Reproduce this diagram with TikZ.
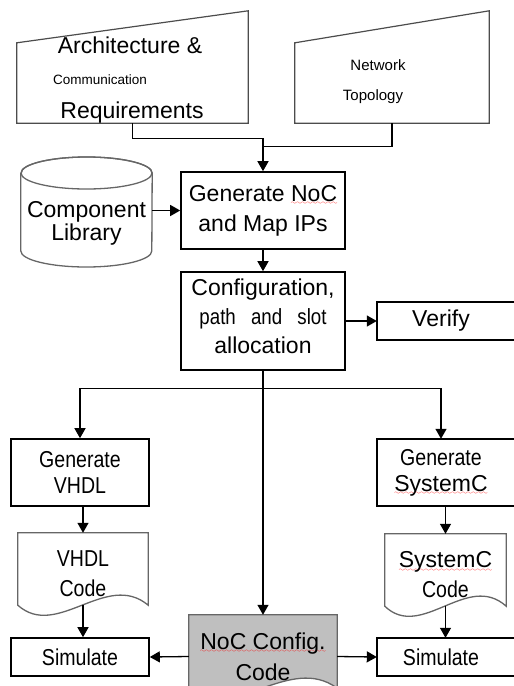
\documentclass[tikz,border=0pt]{standalone}
\usepackage{fontspec}
\setmainfont{Liberation Sans}
\newfontfamily\narrowsans[FakeStretch=0.85]{Liberation Sans}
\usetikzlibrary{arrows.meta}
\usetikzlibrary{calc}
\usetikzlibrary{backgrounds}

\font\wavefont=lasy6
\newcommand\spellwave[1]{\setbox0\hbox{#1}\rlap{\lower3.5pt\hbox to\wd0{\color{red}\xleaders\hbox{\wavefont\char58}\hfil}}#1}

\begin{document}
\begin{tikzpicture}[x=1pt,y=-1pt,
    box/.style={draw,line width=1.6pt,inner sep=0pt,align=center},
    doc/.style={inner sep=0pt,align=center},
    arr/.style={line width=1.3pt,-{Triangle[length=10pt,width=11pt]}},
    ln/.style={line width=1.3pt},
    big/.style={font=\fontsize{23}{30}\selectfont},
    narrow/.style={font=\narrowsans\fontsize{23}{26}\selectfont},
    grayline/.style={line width=1.3pt,black!60}]
    \useasboundingbox (0,0) rectangle (514,686);
    \clip (0,0) rectangle (514,686);

    % inputs
    \node[minimum width=231pt,minimum height=112pt] (req) at (132.5,67) {};
    \node[minimum width=194pt,minimum height=112pt] (topo) at (392,67) {};
    \foreach \n in {req,topo}{
    \draw[line width=1.2pt,black!70] (\n.south west) -- ([yshift=-32pt]\n.north west)
        -- (\n.north east) -- (\n.south east) -- cycle;
    }
    \node[big,anchor=base] (archtxt) at (130,53) {Architecture \&};
    \node[anchor=base,font=\fontsize{13.5}{16}\selectfont] (commtxt) at (100,84) {Communication};
    \node[big,anchor=base] (reqtxt) at (132,118) {Requirements};
    \node[anchor=base,font=\fontsize{15}{18}\selectfont] (nettxt) at (378,70) {Network};
    \node[anchor=base,font=\fontsize{15}{18}\selectfont] (topotxt) at (373,100) {Topology};

    % main column
    \node[box,big,minimum width=164pt,minimum height=77pt] (gen) at (263,210.5)
        {Generate \spellwave{NoC}\\and Map IPs};
    \node[box,font=\fontsize{23}{29}\selectfont,minimum width=164pt,minimum height=98pt] (cfg) at (263,321)
        {Configuration,\\{\narrowsans\fontsize{22}{29}\selectfont path\hspace{10pt} and\hspace{10pt} slot}\\allocation\rule[-10pt]{0pt}{0pt}};

    % library
    \node[doc,font=\fontsize{23}{23}\selectfont,minimum width=131pt] (lib) at (86.5,223.5) {Component\\Library};
    \draw[grayline] ([yshift=50.5pt]lib.west) -- ([yshift=-27.5pt]lib.west)
        arc[start angle=180,end angle=360,x radius=65.5pt,y radius=16pt]
        -- ([yshift=50.5pt]lib.east)
        arc[start angle=0,end angle=180,x radius=65.5pt,y radius=16pt];
    \draw[grayline] ([yshift=50.5pt]lib.center) ellipse[x radius=65.5pt,y radius=16pt];

    % right column, boxes run off the edge
    \node[big,inner sep=0pt,minimum width=128pt,minimum height=38pt] (ver) at (441,321) {Verify};
    \node[big,font=\fontsize{23}{26}\selectfont,align=center,inner sep=0pt,minimum width=128pt,minimum height=67pt] (gensc) at (441,472.5)
        {{\narrowsans Generate}\\\spellwave{SystemC}};
    \node[narrow,inner sep=0pt,minimum width=128pt,minimum height=38pt] (simr) at (441,657) {Simulate};
    \foreach \n in {ver,gensc,simr}{
    \draw[line width=1.6pt] ([xshift=40pt]\n.north east) -- (\n.north west)
        -- (\n.south west) -- ([xshift=40pt]\n.south east);
    }

    % left column
    \node[box,narrow,minimum width=138pt,minimum height=67pt] (genv) at (80,472.5) {Generate\\VHDL};
    \node[box,narrow,minimum width=138pt,minimum height=38pt] (siml) at (80,657) {Simulate};

    % documents
    \node[doc,font=\narrowsans\fontsize{23}{30}\selectfont,minimum width=130pt,minimum height=82pt] (vdoc) at (83,574) {VHDL\\Code};
    \node[doc,font=\fontsize{23}{30}\selectfont,minimum width=121pt,minimum height=82pt] (scdoc) at (445.5,575)
        {\spellwave{SystemC}\\{\narrowsans Code}};
    \node[doc,font=\fontsize{23}{31}\selectfont,minimum width=148pt,minimum height=83pt] (noc) at (263,656.5)
        {\spellwave{NoC Config.}\\Code};
    \begin{scope}[on background layer]
    \foreach \n/\f in {vdoc/white,scdoc/white,noc/black!25}{
    \draw[grayline,fill=\f] (\n.north west) -- ([yshift=10pt]\n.south west)
        .. controls ($(\n.south west)!.3!(\n.south east)+(0pt,-25pt)$)
        and ($(\n.south west)!.68!(\n.south east)+(0pt,45pt)$)
        .. ([yshift=10pt]\n.south east) -- (\n.north east) -- cycle;
    }
    \end{scope}

    % connectors
    \draw[arr] (req.south) |- ([yshift=33pt]gen.north) -- (gen.north);
    \draw[ln] (topo.south) |- ([yshift=25pt]gen.north);
    \draw[arr] (lib.east |- gen.west) -- (gen.west);
    \draw[arr] (gen.south) -- (cfg.north);
    \draw[arr] (cfg.east) -- (ver.west);
    \coordinate (split) at ($(cfg.south)+(0,18)$);
    \draw[ln] (cfg.south) -- (split);
    \draw[arr] (split) -| (genv.north);
    \draw[arr] (split) -| (gensc.north);
    \draw[arr] (split) -- (noc.north);
    \draw[arr] (vdoc.north |- genv.south) -- (vdoc.north);
    \draw[arr] (scdoc.north |- gensc.south) -- (scdoc.north);
    \draw[arr] ([yshift=10pt]vdoc.south) -- (vdoc.south |- siml.north);
    \draw[arr] ([yshift=10pt]scdoc.south) -- (scdoc.south |- simr.north);
    \draw[arr] (noc.west) -- (siml.east);
    \draw[arr] (noc.east) -- (simr.west);
\end{tikzpicture}
\end{document}
